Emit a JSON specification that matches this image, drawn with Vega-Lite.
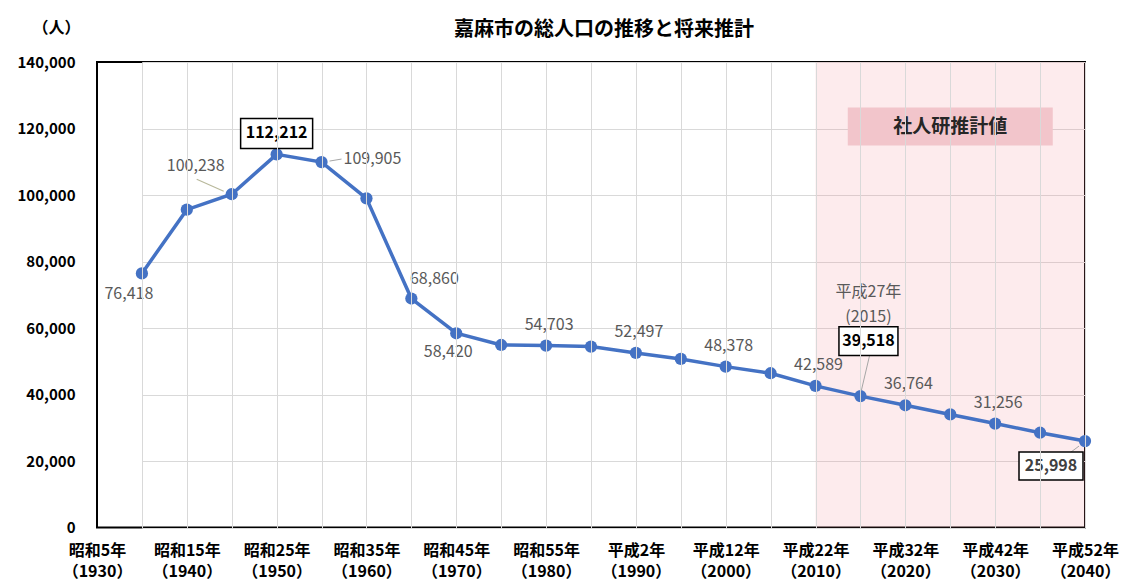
{
  "$schema": "https://vega.github.io/schema/vega-lite/v6.json",
  "width": 988,
  "height": 465.5,
  "autosize": "none",
  "padding": {"left": 97, "top": 62, "right": 40, "bottom": 53.5},
  "background": "#ffffff",
  "title": {
    "text": "嘉麻市の総人口の推移と将来推計",
    "font": "Noto Sans CJK JP",
    "fontSize": 20,
    "fontWeight": "bold",
    "color": "#000000",
    "anchor": "middle",
    "baseline": "bottom",
    "offset": 20,
    "dx": 13,
    "dy": 61
  },
  "config": {
    "view": {"stroke": "#000000", "strokeWidth": 2},
    "font": "Noto Sans CJK JP"
  },
  "data": {
    "values": [
      {"year": 1930, "pop": 76418},
      {"year": 1935, "pop": 95600},
      {"year": 1940, "pop": 100238},
      {"year": 1950, "pop": 112212},
      {"year": 1955, "pop": 109905},
      {"year": 1960, "pop": 99000},
      {"year": 1965, "pop": 68860},
      {"year": 1970, "pop": 58420},
      {"year": 1975, "pop": 54900},
      {"year": 1980, "pop": 54703},
      {"year": 1985, "pop": 54400},
      {"year": 1990, "pop": 52497},
      {"year": 1995, "pop": 50700},
      {"year": 2000, "pop": 48378},
      {"year": 2005, "pop": 46400},
      {"year": 2010, "pop": 42589},
      {"year": 2015, "pop": 39518},
      {"year": 2020, "pop": 36764},
      {"year": 2025, "pop": 34000},
      {"year": 2030, "pop": 31256},
      {"year": 2035, "pop": 28500},
      {"year": 2040, "pop": 25998}
    ]
  },
  "encoding": {
    "x": {
      "field": "year",
      "type": "ordinal",
      "scale": {
        "type": "point",
        "domain": [1930, 1935, 1940, 1950, 1955, 1960, 1965, 1970, 1975, 1980, 1985, 1990, 1995, 2000, 2005, 2010, 2015, 2020, 2025, 2030, 2035, 2040],
        "range": [44.9, 988],
        "padding": 0
      },
      "axis": {
        "title": null,
        "domain": false,
        "ticks": false,
        "tickSize": 0,
        "grid": true,
        "gridColor": "#d9d9d9",
        "gridWidth": 1,
        "labelAngle": 0,
        "labelOverlap": false,
        "labelFont": "Noto Sans CJK JP",
        "labelFontSize": 16,
        "labelFontWeight": "bold",
        "labelColor": "#000000",
        "labelBaseline": "top",
        "labelLineHeight": 21,
        "labelPadding": 15,
        "labelOffset": {"condition": {"test": "datum.value < 1950", "value": -44.9}, "value": 0},
        "labelExpr": "datum.value % 10 == 0 ? [(datum.value < 1989 ? '昭和' + (datum.value - 1925) : '平成' + (datum.value - 1988)) + '年', '（' + datum.value + '）'] : ''"
      }
    },
    "y": {
      "field": "pop",
      "type": "quantitative",
      "scale": {"domain": [0, 140000], "nice": false},
      "axis": {
        "title": "（人）",
        "titleAngle": 0,
        "titleX": -41,
        "titleY": -35,
        "titleAlign": "center",
        "titleBaseline": "middle",
        "titleFont": "Noto Sans CJK JP",
        "titleFontSize": 16,
        "titleFontWeight": "bold",
        "titleColor": "#000000",
        "values": [0, 20000, 40000, 60000, 80000, 100000, 120000, 140000],
        "labelExpr": "format(datum.value, ',')",
        "domain": false,
        "ticks": false,
        "tickSize": 0,
        "grid": true,
        "gridColor": "#d9d9d9",
        "gridWidth": 1,
        "labelFont": "Noto Sans CJK JP",
        "labelFontSize": 15,
        "labelFontWeight": "bold",
        "labelColor": "#000000",
        "labelPadding": 22
      }
    }
  },
  "layer": [
    {
      "transform": [{"filter": {"field": "year", "equal": 2010}}],
      "mark": {"type": "rect", "fill": "#f08090", "fillOpacity": 0.16, "strokeWidth": 0},
      "encoding": {
        "x": {"datum": 2010, "type": "ordinal"},
        "x2": {"datum": 2040},
        "y": {"datum": 140000, "type": "quantitative"},
        "y2": {"datum": 0}
      }
    },
    {
      "transform": [{"filter": {"field": "year", "equal": 2025}}],
      "mark": {"type": "point", "shape": "M-1,-0.1854H1V0.1854H-1Z", "size": 42025, "filled": true, "fill": "#f2c5cb", "strokeWidth": 0, "opacity": 1},
      "encoding": {
        "y": {"datum": 120600, "type": "quantitative"}
      }
    },
    {
      "transform": [{"filter": {"field": "year", "equal": 2025}}],
      "mark": {"type": "text", "text": "社人研推計値", "font": "Noto Sans CJK JP", "fontSize": 19, "fontWeight": "bold", "color": "#262626", "align": "center", "baseline": "middle"},
      "encoding": {
        "y": {"datum": 120600, "type": "quantitative"}
      }
    },
    {
      "mark": {"type": "line", "color": "#4472c4", "strokeWidth": 3.5}
    },
    {
      "mark": {"type": "point", "filled": true, "color": "#4472c4", "size": 150, "opacity": 1}
    },
    {
      "transform": [{"filter": {"field": "year", "equal": 1940}}],
      "mark": {"type": "rule", "color": "#b8b89a", "strokeWidth": 1.2, "xOffset": -35, "yOffset": -15, "x2Offset": -8, "y2Offset": -3},
      "encoding": {"x2": {"field": "year"}, "y2": {"field": "pop"}}
    },
    {
      "transform": [{"filter": {"field": "year", "equal": 1955}}],
      "mark": {"type": "rule", "color": "#a6a6a6", "strokeWidth": 1, "xOffset": 8, "yOffset": -1, "x2Offset": 20, "y2Offset": -3},
      "encoding": {"x2": {"field": "year"}, "y2": {"field": "pop"}}
    },
    {
      "transform": [{"filter": {"field": "year", "equal": 2015}}],
      "mark": {"type": "rule", "color": "#a6a6a6", "strokeWidth": 1, "xOffset": 9, "yOffset": -40, "x2Offset": 1, "y2Offset": -6},
      "encoding": {"x2": {"field": "year"}, "y2": {"field": "pop"}}
    },
    {
      "transform": [{"filter": {"field": "year", "equal": 2040}}],
      "mark": {"type": "rule", "color": "#a6a6a6", "strokeWidth": 1, "xOffset": -14, "yOffset": 11, "x2Offset": -6, "y2Offset": 5},
      "encoding": {"x2": {"field": "year"}, "y2": {"field": "pop"}}
    },
    {
      "transform": [{"filter": {"field": "year", "oneOf": [1980, 1990, 2000, 2010, 2020, 2030]}}],
      "mark": {"type": "text", "font": "Noto Sans CJK JP", "fontSize": 16, "color": "#595959", "align": "center", "baseline": "middle", "dx": 3, "dy": -21},
      "encoding": {"text": {"field": "pop", "type": "quantitative", "format": ","}}
    },
    {
      "transform": [{"filter": {"field": "year", "equal": 1930}}],
      "mark": {"type": "text", "font": "Noto Sans CJK JP", "fontSize": 16, "color": "#595959", "align": "center", "baseline": "middle", "dx": -13, "dy": 21},
      "encoding": {"text": {"field": "pop", "type": "quantitative", "format": ","}}
    },
    {
      "transform": [{"filter": {"field": "year", "equal": 1940}}],
      "mark": {"type": "text", "font": "Noto Sans CJK JP", "fontSize": 16, "color": "#595959", "align": "center", "baseline": "middle", "dx": -36, "dy": -28},
      "encoding": {"text": {"field": "pop", "type": "quantitative", "format": ","}}
    },
    {
      "transform": [{"filter": {"field": "year", "equal": 1955}}],
      "mark": {"type": "text", "font": "Noto Sans CJK JP", "fontSize": 16, "color": "#595959", "align": "left", "baseline": "middle", "dx": 22, "dy": -3},
      "encoding": {"text": {"field": "pop", "type": "quantitative", "format": ","}}
    },
    {
      "transform": [{"filter": {"field": "year", "equal": 1965}}],
      "mark": {"type": "text", "font": "Noto Sans CJK JP", "fontSize": 16, "color": "#595959", "align": "center", "baseline": "middle", "dx": 23, "dy": -20},
      "encoding": {"text": {"field": "pop", "type": "quantitative", "format": ","}}
    },
    {
      "transform": [{"filter": {"field": "year", "equal": 1970}}],
      "mark": {"type": "text", "font": "Noto Sans CJK JP", "fontSize": 16, "color": "#595959", "align": "center", "baseline": "middle", "dx": -8, "dy": 19},
      "encoding": {"text": {"field": "pop", "type": "quantitative", "format": ","}}
    },
    {
      "transform": [{"filter": {"field": "year", "equal": 1950}}],
      "mark": {"type": "point", "shape": "M-1,-0.4167H1V0.4167H-1Z", "size": 5184, "filled": true, "fill": "#ffffff", "stroke": "#000000", "strokeWidth": 1.5, "opacity": 1, "yOffset": -21}
    },
    {
      "transform": [{"filter": {"field": "year", "equal": 1950}}],
      "mark": {"type": "text", "font": "Noto Sans CJK JP", "fontSize": 16, "fontWeight": "bold", "color": "#000000", "align": "center", "baseline": "middle", "dy": -21},
      "encoding": {"text": {"field": "pop", "type": "quantitative", "format": ","}}
    },
    {
      "transform": [{"filter": {"field": "year", "equal": 2015}}],
      "mark": {"type": "point", "shape": "M-1,-0.49H1V0.49H-1Z", "size": 3481, "filled": true, "fill": "#ffffff", "stroke": "#000000", "strokeWidth": 1.5, "opacity": 1, "xOffset": 8, "yOffset": -55}
    },
    {
      "transform": [{"filter": {"field": "year", "equal": 2015}}],
      "mark": {"type": "text", "font": "Noto Sans CJK JP", "fontSize": 16, "fontWeight": "bold", "color": "#000000", "align": "center", "baseline": "middle", "dx": 8, "dy": -55},
      "encoding": {"text": {"field": "pop", "type": "quantitative", "format": ","}}
    },
    {
      "transform": [{"filter": {"field": "year", "equal": 2015}}],
      "mark": {"type": "text", "text": ["平成27年", "(2015)"], "lineHeight": 25, "font": "Noto Sans CJK JP", "fontSize": 16, "color": "#595959", "align": "center", "baseline": "middle", "dx": 8, "dy": -104}
    },
    {
      "transform": [{"filter": {"field": "year", "equal": 2040}}],
      "mark": {"type": "point", "shape": "M-1,-0.4375H1V0.4375H-1Z", "size": 4096, "filled": true, "fill": "#ffffff", "stroke": "#000000", "strokeWidth": 1.5, "opacity": 1, "xOffset": -34, "yOffset": 25}
    },
    {
      "transform": [{"filter": {"field": "year", "equal": 2040}}],
      "mark": {"type": "text", "font": "Noto Sans CJK JP", "fontSize": 16, "fontWeight": "bold", "color": "#404040", "align": "center", "baseline": "middle", "dx": -34, "dy": 25},
      "encoding": {"text": {"field": "pop", "type": "quantitative", "format": ","}}
    }
  ]
}
